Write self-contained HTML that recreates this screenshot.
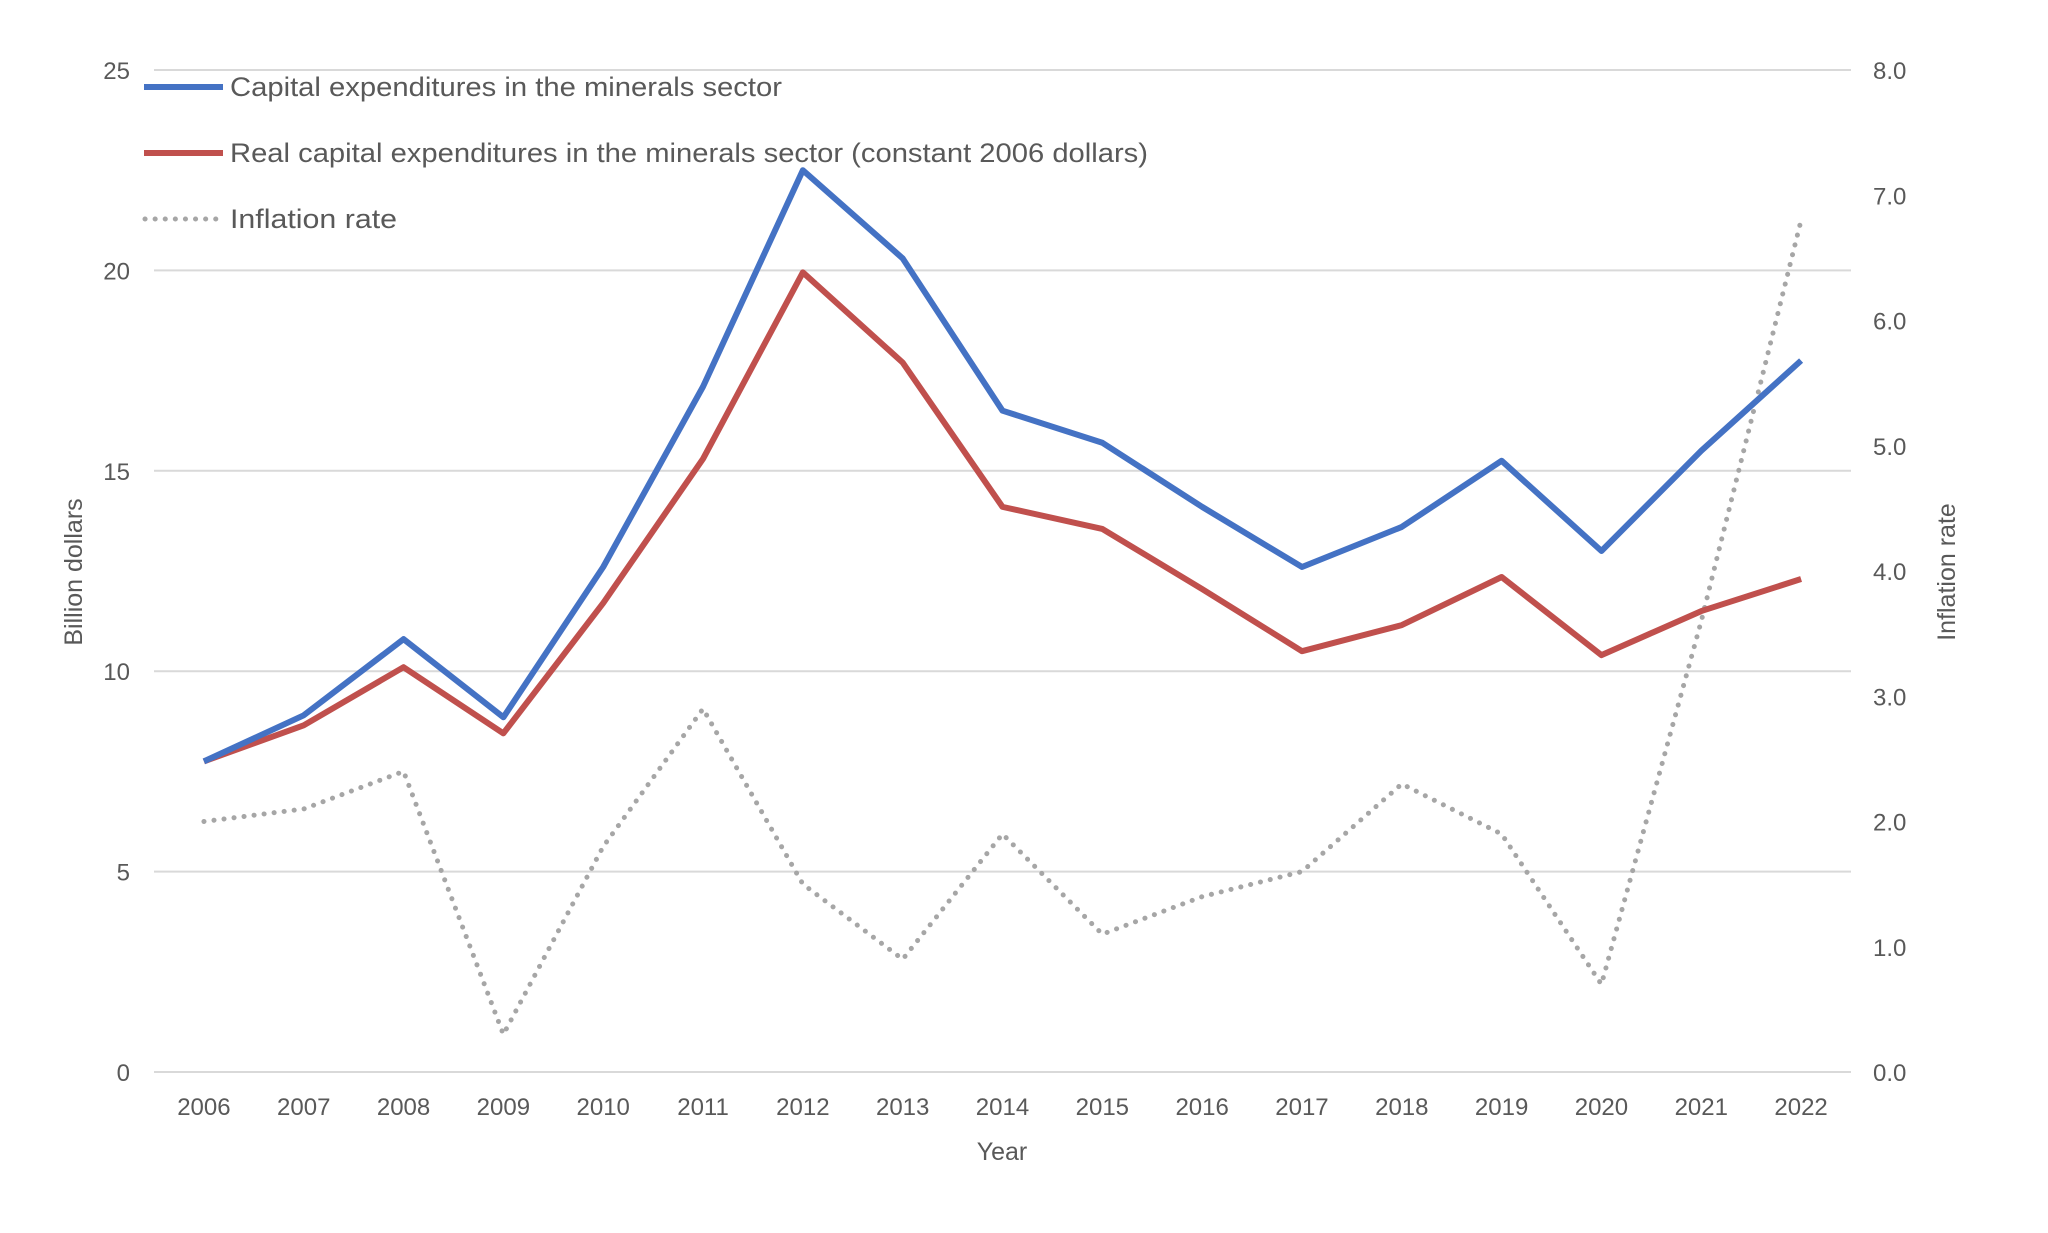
<!DOCTYPE html>
<html><head><meta charset="utf-8"><style>
body{margin:0;background:#fff}
svg{display:block;font-family:"Liberation Sans",sans-serif}
text{fill:#595959}
</style></head><body>
<svg id="chart" width="2048" height="1233" viewBox="0 0 2048 1233" xmlns="http://www.w3.org/2000/svg">
<g id="grid"></g>
<g id="series"></g>
<g id="axes"></g>
<text x="0" y="0" font-size="25" text-anchor="middle" transform="translate(82,572) rotate(-90)">Billion dollars</text>
<text x="0" y="0" font-size="25" text-anchor="middle" transform="translate(1955,572) rotate(-90)">Inflation rate</text>
<text x="1002" y="1160" font-size="25" text-anchor="middle">Year</text>
<g>
<line x1="144" y1="87" x2="223" y2="87" stroke="#4472C4" stroke-width="6"/>
<text x="230" y="96" font-size="27" textLength="552" lengthAdjust="spacingAndGlyphs">Capital expenditures in the minerals sector</text>
<line x1="144" y1="153" x2="223" y2="153" stroke="#C0504D" stroke-width="6"/>
<text x="230" y="162" font-size="27" textLength="918" lengthAdjust="spacingAndGlyphs">Real capital expenditures in the minerals sector (constant 2006 dollars)</text>
<line x1="145" y1="219" x2="218" y2="219" stroke="#a6a6a6" stroke-width="5" stroke-dasharray="0.1 10" stroke-linecap="round"/>
<text x="230" y="228" font-size="27" textLength="167" lengthAdjust="spacingAndGlyphs">Inflation rate</text>
</g>
</svg>
<script>
const years=[2006,2007,2008,2009,2010,2011,2012,2013,2014,2015,2016,2017,2018,2019,2020,2021,2022];
const capex=[7.75,8.9,10.8,8.85,12.6,17.1,22.5,20.3,16.5,15.7,14.1,12.6,13.6,15.25,13.0,15.5,17.75];
const realCapex=[7.75,8.65,10.1,8.45,11.7,15.3,19.95,17.7,14.1,13.55,12.05,10.5,11.15,12.35,10.4,11.5,12.3];
const inflation=[2.0,2.1,2.4,0.3,1.8,2.9,1.5,0.9,1.9,1.1,1.4,1.6,2.3,1.9,0.7,3.6,6.8];
const leftTicks=[0,5,10,15,20,25];
const rightTicks=["0.0","1.0","2.0","3.0","4.0","5.0","6.0","7.0","8.0"];
const NS="http://www.w3.org/2000/svg";
const X0=154,X1=1851,Y0=1072,Y1=70;
const step=(X1-X0)/years.length;
const xs=i=>X0+step*(i+0.5);
const yL=v=>Y0-(v/25)*(Y0-Y1);
const yR=v=>Y0-(v/8)*(Y0-Y1);
function mk(tag,attrs,parent,txt){const e=document.createElementNS(NS,tag);for(const k in attrs)e.setAttribute(k,attrs[k]);if(txt!==undefined)e.textContent=txt;parent.appendChild(e);return e;}
const grid=document.getElementById('grid'),axes=document.getElementById('axes'),series=document.getElementById('series');
leftTicks.forEach(v=>{
  const l=mk('line',{x1:X0,x2:X1,y1:yL(v),y2:yL(v),stroke:'#d9d9d9','stroke-width':2},grid);
  
  
  const t=mk('text',{x:130,y:yL(v)+9,'font-size':24,'text-anchor':'end'},axes,String(v));
  
  
});
rightTicks.forEach(s=>{
  const t=mk('text',{x:1873,y:yR(parseFloat(s))+9,'font-size':24},axes,s);
  
  
});
years.forEach((y,i)=>{
  const t=mk('text',{x:xs(i),y:1115,'font-size':24,'text-anchor':'middle'},axes,String(y));
  
  
});
function line(vals,fy,attrs,name){
  const p=mk('polyline',Object.assign({points:vals.map((v,i)=>xs(i)+','+fy(v)).join(' '),fill:'none'},attrs),series);
  
  
}
line(inflation,yR,{stroke:'#a6a6a6','stroke-width':5,'stroke-dasharray':'0.1 10','stroke-linecap':'round'},'inflation-line');
line(realCapex,yL,{stroke:'#C0504D','stroke-width':6,'stroke-linejoin':'round'},'real-capex-line');
line(capex,yL,{stroke:'#4472C4','stroke-width':6,'stroke-linejoin':'round'},'capex-line');
</script>
</body></html>
